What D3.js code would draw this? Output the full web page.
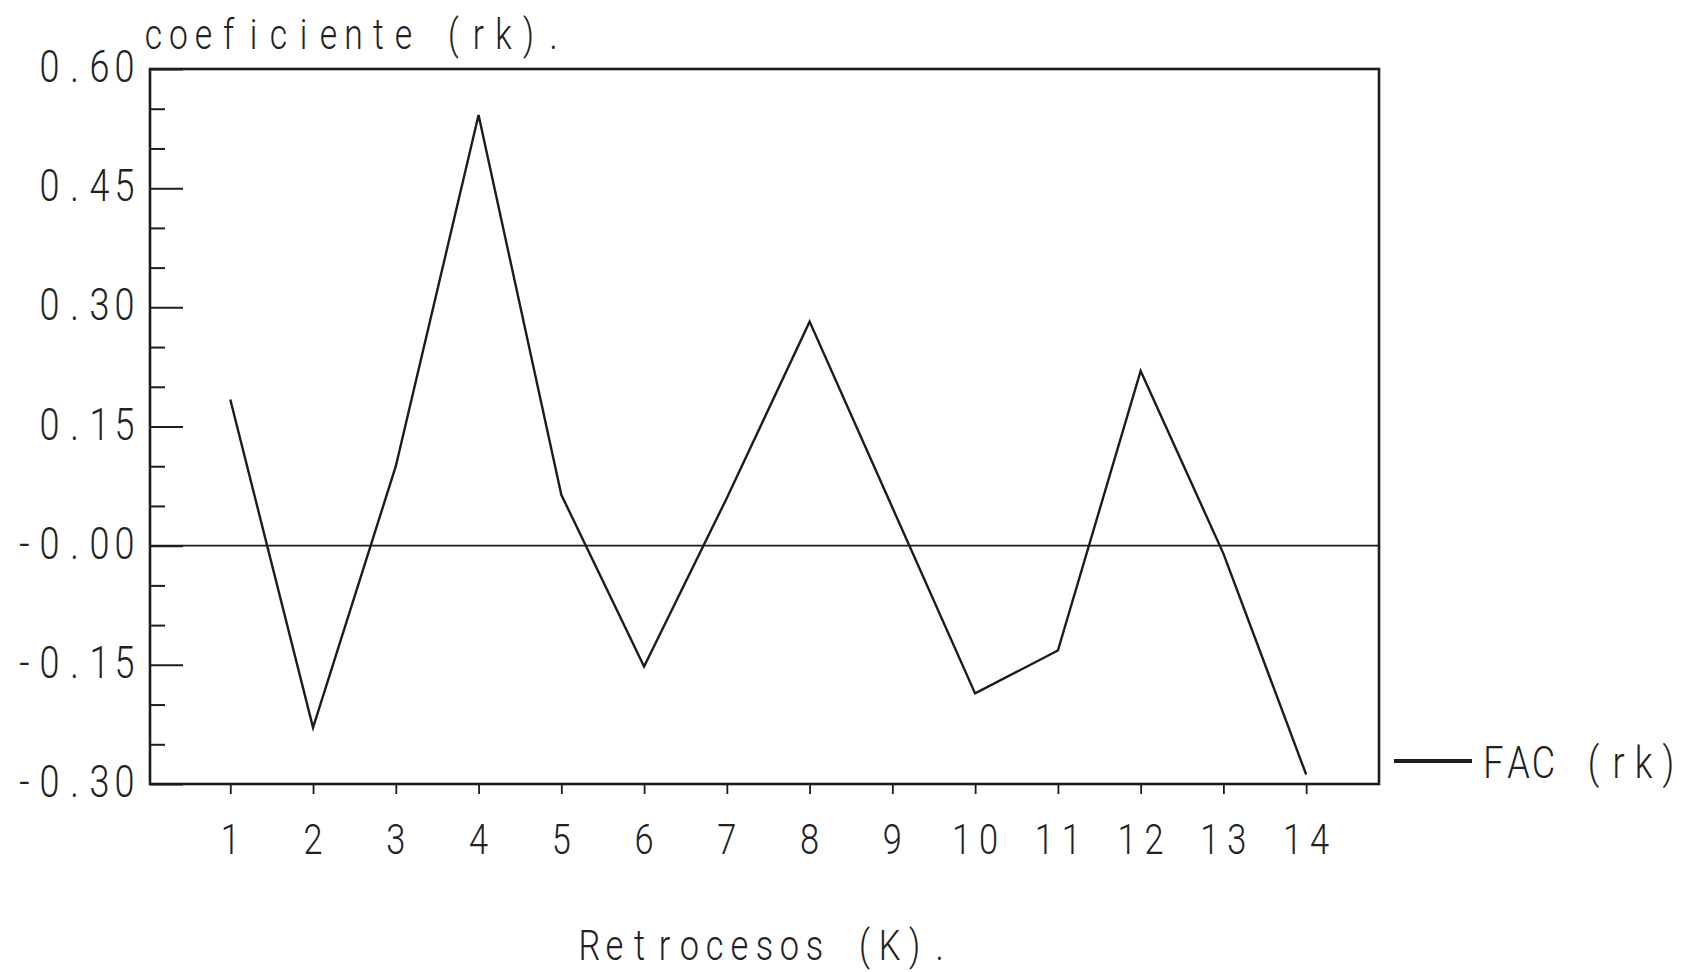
<!DOCTYPE html>
<html>
<head>
<meta charset="utf-8">
<script src="https://cdn.jsdelivr.net/npm/d3@7/dist/d3.min.js"></script>
<style>
  html, body { margin: 0; padding: 0; background: #ffffff; }
  svg { display: block; }
  text { font-family: Roboto, "DejaVu Sans", sans-serif; font-weight: 300; fill: #222; }
</style>
</head>
<body>
<svg id="chart" width="1695" height="972"></svg>
<script>
// Autocorrelation function of the series, lags 1..14
const lags = [1, 2, 3, 4, 5, 6, 7, 8, 9, 10, 11, 12, 13, 14];
const rk = [0.184, -0.229, 0.100, 0.542, 0.064, -0.152, 0.060, 0.282, 0.048, -0.186, -0.132, 0.220, -0.010, -0.288];

// Axis ticks
const yMajor = [0.60, 0.45, 0.30, 0.15, 0.00, -0.15, -0.30];
const yTickLabels = ["0.60", "0.45", "0.30", "0.15", "-0.00", "-0.15", "-0.30"];
const yMinor = [0.55, 0.50, 0.40, 0.35, 0.25, 0.20, 0.10, 0.05, -0.05, -0.10, -0.20, -0.25];
const xTickLabels = lags.map(String);

const titleText = "coeficiente (rk).";
const xTitleText = "Retrocesos (K).";
const legendText = "FAC (rk)";

const plot = { left: 150, right: 1379, top: 69, bottom: 784 };
const ink = "#1c1c1c";
const squeeze = 0.8; // narrow plotter-like glyphs

const svg = d3.select("#chart");

const x = d3.scaleLinear().domain([0.03, 14.88]).range([plot.left, plot.right]);
const y = d3.scaleLinear().domain([-0.30, 0.60]).range([plot.bottom, plot.top]);

// Plotter-style text: every character sits in a fixed-width cell
function cellText(sel, str, xPos, yPos, cell, anchor, size) {
  const n = str.length;
  let x0 = xPos;
  if (anchor === "end") x0 = xPos - n * cell;
  else if (anchor === "middle") x0 = xPos - n * cell / 2;
  const t = sel.append("text")
    .attr("transform", `translate(${x0},${yPos}) scale(${squeeze},1)`)
    .attr("font-size", size)
    .attr("text-anchor", "middle");
  str.split("").forEach((ch, i) => {
    t.append("tspan")
      .attr("x", (i + 0.5) * cell / squeeze)
      .attr("y", 0)
      .text(ch === " " ? "\u00a0" : ch);
  });
  return t;
}

// Minor ticks on the left axis (pointing into the plot)
svg.append("g")
  .attr("transform", `translate(${plot.left},0)`)
  .call(d3.axisLeft(y).tickValues(yMinor).tickSize(-15).tickFormat(""))
  .call(g => g.select(".domain").remove())
  .call(g => g.selectAll("line").attr("stroke", ink).attr("stroke-width", 2));

// Major ticks on the left axis
svg.append("g")
  .attr("transform", `translate(${plot.left},0)`)
  .call(d3.axisLeft(y).tickValues(yMajor).tickSize(-33).tickFormat(""))
  .call(g => g.select(".domain").remove())
  .call(g => g.selectAll("line").attr("stroke", ink).attr("stroke-width", 2));

// Y tick labels
yMajor.forEach((v, i) => {
  cellText(svg, yTickLabels[i], 137, y(v) + 13, 25, "end", 45);
});

// X ticks below the frame
svg.append("g")
  .attr("transform", `translate(0,${plot.bottom})`)
  .call(d3.axisBottom(x).tickValues(lags).tickSize(10).tickFormat(""))
  .call(g => g.select(".domain").remove())
  .call(g => g.selectAll("line").attr("stroke", ink).attr("stroke-width", 1.8));

// X tick labels
lags.forEach((k, i) => {
  cellText(svg, xTickLabels[i], x(k), 854, 27, "middle", 43);
});

// Zero reference line
svg.append("line")
  .attr("x1", plot.left).attr("x2", plot.right)
  .attr("y1", y(0)).attr("y2", y(0))
  .attr("stroke", ink).attr("stroke-width", 1.6);

// Frame
svg.append("rect")
  .attr("x", plot.left).attr("y", plot.top)
  .attr("width", plot.right - plot.left)
  .attr("height", plot.bottom - plot.top)
  .attr("fill", "none")
  .attr("stroke", ink).attr("stroke-width", 2.6);

// ACF line
const line = d3.line().x((d, i) => x(lags[i])).y(d => y(d));
svg.append("path")
  .datum(rk)
  .attr("d", line)
  .attr("fill", "none")
  .attr("stroke", ink)
  .attr("stroke-width", 2.4)
  .attr("stroke-linejoin", "miter");

// Titles
cellText(svg, titleText, 141, 49, 25, "start", 42);
cellText(svg, xTitleText, (plot.left + plot.right) / 2, 960, 25, "middle", 43);

// Legend
svg.append("line")
  .attr("x1", 1394).attr("x2", 1472)
  .attr("y1", 761).attr("y2", 761)
  .attr("stroke", ink).attr("stroke-width", 4);
cellText(svg, legendText, 1481, 778, 25, "start", 45);
</script>
</body>
</html>
